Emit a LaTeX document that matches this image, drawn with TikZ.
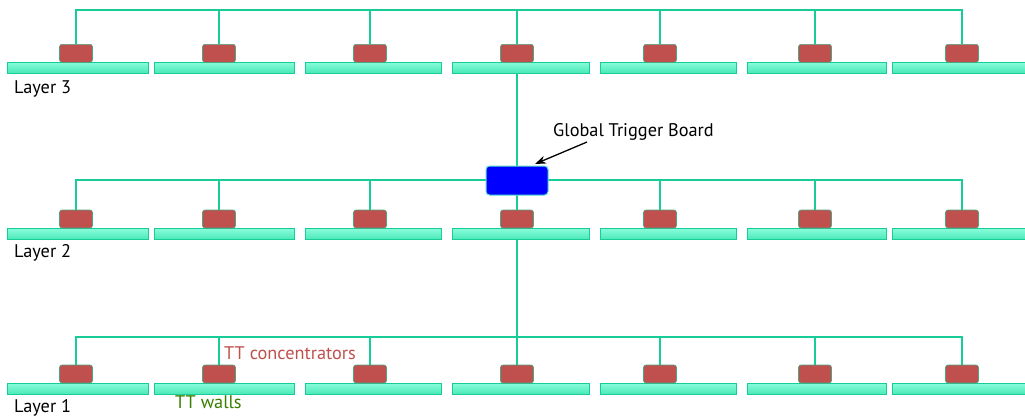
\documentclass[tikz,border=0pt]{standalone}
\usepackage{fontspec}
\setmainfont{PT Sans}
\usetikzlibrary{arrows.meta}
\pgfdeclarelayer{background}
\pgfsetlayers{background,main}
\definecolor{busc}{RGB}{24,204,152}
\definecolor{barhi}{RGB}{135,252,218}
\definecolor{barlo}{RGB}{72,232,182}
\definecolor{concred}{RGB}{192,80,77}
\definecolor{wallgreen}{RGB}{55,125,0}
\definecolor{gtbborder}{RGB}{90,225,205}
\tikzset{
  wall/.style={draw=busc, line width=0.9pt, top color=barhi, bottom color=barlo, minimum height=11pt, inner sep=0pt, outer sep=0pt},
  conc/.style={draw=busc!70!concred, line width=0.6pt, fill=concred, rounded corners=2.5pt, minimum width=33pt, minimum height=18pt, inner sep=0pt, outer sep=0pt},
  bus/.style={draw=busc, line width=1.8pt},
  drop/.style={draw=busc, line width=1.3pt},
  gtbox/.style={draw=gtbborder, line width=1pt, fill=blue, rounded corners=3.5pt, minimum width=62pt, minimum height=29pt, inner sep=0pt, outer sep=0pt},
  lbl/.style={anchor=base west, inner sep=0pt, font=\fontsize{18.3}{21}\selectfont}
}
\begin{document}
\begin{tikzpicture}[x=1pt,y=-1pt]
\useasboundingbox (0,0) rectangle (1025,418);
\foreach \L/\cy/\by/\busy in {3/53.3/67.7/10, 2/219/234.2/180, 1/374/389/337}{
  \foreach \i/\bx/\bw/\cx in {1/77.5/141/76, 2/224/140/219, 3/373/136/370, 4/520.5/137/517, 5/668/136/660, 6/816.5/139/815, 7/962/140/962}{
    \node[wall, minimum width=\bw pt] (w\L\i) at (\bx,\by) {};
    \node[conc] (c\L\i) at (\cx,\cy) {};
    \coordinate (b\L\i) at (\cx,\busy);
    \begin{pgfonlayer}{background}
      \draw[drop] (c\L\i.north) -- (b\L\i);
    \end{pgfonlayer}
  }
  \begin{pgfonlayer}{background}
    \draw[bus, line cap=rect] (b\L1) -- (b\L7);
  \end{pgfonlayer}
}
\node[gtbox] (gtb) at (517,180.5) {};
\begin{pgfonlayer}{background}
  \draw[drop] (w34.south -| gtb.north) -- (gtb.north);
  \draw[drop] (gtb.south) -- (c24.north);
  \draw[drop] (w24.south -| b14) -- (b14);
\end{pgfonlayer}
\node[lbl] (l3) at (14,93) {Layer 3};
\node[lbl] (l2) at (14,257) {Layer 2};
\node[lbl] (l1) at (14,412.5) {Layer 1};
\node[lbl] (gtl) at (553,136) {Global Trigger Board};
\node[lbl, text=concred] (ttc) at (224,359) {TT concentrators};
\node[lbl, text=wallgreen] (ttw) at (175,408) {TT walls};
\coordinate (as) at (587,142);
\coordinate (ae) at (535,164);
\draw[-{Stealth[length=11pt,width=8pt]}, line width=1.3pt] (as) -- (ae);
\end{tikzpicture}
\end{document}
